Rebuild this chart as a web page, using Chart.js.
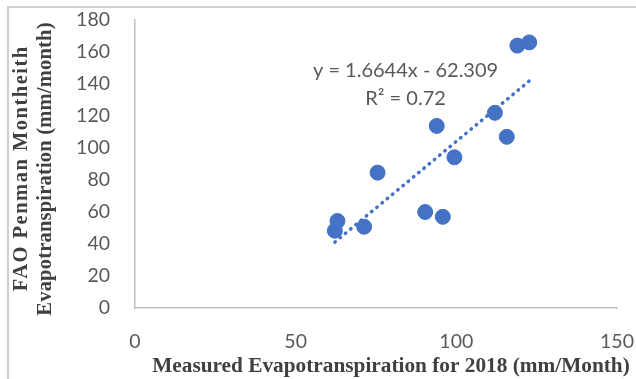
<!DOCTYPE html>
<html>
<head>
<meta charset="utf-8">
<script src="https://cdn.jsdelivr.net/npm/chart.js@4/dist/chart.umd.min.js"></script>
<style>
  html, body { margin: 0; padding: 0; background: #fff; }
  #wrap { position: relative; width: 636px; height: 379px; overflow: hidden; }
  #frame { position: absolute; left: 7px; top: 6px; width: 700px; height: 400px;
           border-left: 2px solid #cfcfcf; border-top: 2px solid #cfcfcf; }
  canvas { position: absolute; left: 0; top: 0; }
</style>
</head>
<body>
<div id="wrap">
  <div id="frame"></div>
  <canvas id="chart" width="636" height="379"></canvas>
</div>
<script>
// Monthly evapotranspiration, 2018: measured vs FAO Penman-Monteith (mm/month)
const measuredET = [62.2, 63.0, 71.3, 75.5, 90.3, 95.8, 93.9, 99.4, 112.0, 115.7, 119.0, 122.7];
const faoPenmanET = [48.3, 54.4, 50.8, 84.6, 60.0, 57.0, 113.8, 94.2, 122.0, 107.0, 164.0, 166.0];

// Linear trendline as reported on the chart
const trendSlope = 1.6644;
const trendIntercept = -62.309;
const trendR2 = 0.72;

const xTicks = [0, 50, 100, 150];
const yTicks = [0, 20, 40, 60, 80, 100, 120, 140, 160, 180];

const xTitle = 'Measured Evapotranspiration for 2018 (mm/Month)';
const yTitleLines = ['FAO Penman Montheith', 'Evapotranspiration (mm/month)'];

const blue = '#4472C4';
const scatterPoints = measuredET.map((x, i) => ({ x: x, y: faoPenmanET[i] }));
const xMin = Math.min(...measuredET);
const xMax = Math.max(...measuredET);
const trendPoints = [xMin, xMax].map(x => ({ x: x, y: trendSlope * x + trendIntercept }));

const eqLabel = 'y = ' + trendSlope.toFixed(4) + 'x - ' + Math.abs(trendIntercept).toFixed(3);
const r2Label = 'R\u00B2 = ' + trendR2.toFixed(2);

// Writes the trendline equation and R² near the fitted line
const trendLabelPlugin = {
  id: 'trendLabel',
  afterDatasetsDraw(chart) {
    const { ctx, scales } = chart;
    const cx = scales.x.getPixelForValue(84.2);
    const y1 = scales.y.getPixelForValue(148.6);
    const y2 = scales.y.getPixelForValue(131.2);
    ctx.save();
    ctx.fillStyle = '#595959';
    ctx.font = '20px Lato';
    ctx.textAlign = 'center';
    ctx.textBaseline = 'middle';
    ctx.fillText(eqLabel, cx, y1);
    ctx.fillText(r2Label, cx, y2);
    ctx.restore();
  }
};

// Axis titles in bold serif, the vertical one split over two lines
const axisTitlePlugin = {
  id: 'axisTitles',
  afterDraw(chart) {
    const { ctx } = chart;
    ctx.save();
    ctx.fillStyle = '#404040';
    ctx.font = 'bold 21.3px "Liberation Serif"';
    ctx.textAlign = 'center';
    ctx.textBaseline = 'alphabetic';
    ctx.fillText(xTitle, 391, 371.5);

    ctx.translate(0, 169);
    ctx.rotate(-Math.PI / 2);
    ctx.font = 'bold 20.5px "Liberation Serif"';
    ctx.letterSpacing = '1.5px';
    ctx.fillText(yTitleLines[0], 0.7, 26.5);
    ctx.letterSpacing = '0.2px';
    ctx.fillText(yTitleLines[1], 0, 50.5);
    ctx.restore();
  }
};

new Chart(document.getElementById('chart'), {
  type: 'scatter',
  data: {
    datasets: [
      {
        label: 'Monthly ET',
        data: scatterPoints,
        backgroundColor: blue,
        borderColor: blue,
        pointRadius: 7.5,
        pointHoverRadius: 7.5,
        order: 1
      },
      {
        label: 'Linear trend',
        type: 'line',
        data: trendPoints,
        borderColor: blue,
        borderWidth: 3.5,
        borderDash: [0.5, 6.3],
        borderCapStyle: 'round',
        pointRadius: 0,
        fill: false,
        order: 0
      }
    ]
  },
  options: {
    responsive: false,
    animation: false,
    events: [],
    layout: { padding: { top: 20, right: 19, left: 0, bottom: 0 } },
    plugins: {
      legend: { display: false },
      tooltip: { enabled: false }
    },
    scales: {
      x: {
        type: 'linear',
        min: 0,
        max: 150,
        afterBuildTicks(scale) { scale.ticks = xTicks.map(v => ({ value: v })); },
        afterFit(scale) {
          scale.height = 71;
          scale.paddingLeft = 0;
          scale.paddingRight = 0;
        },
        grid: { display: false, drawTicks: false },
        border: { display: true, color: '#bfbfbf', width: 1.5 },
        ticks: { color: '#595959', font: { family: 'Lato', size: 19.5 }, padding: 22 },
        title: { display: false, text: xTitle }
      },
      y: {
        type: 'linear',
        min: 0,
        max: 180,
        afterBuildTicks(scale) { scale.ticks = yTicks.map(v => ({ value: v })); },
        afterFit(scale) {
          scale.width = 135;
          scale.paddingTop = 0;
          scale.paddingBottom = 0;
        },
        grid: { display: false, drawTicks: false },
        border: { display: true, color: '#bfbfbf', width: 1.5 },
        ticks: { color: '#595959', font: { family: 'Lato', size: 19.5 }, padding: 25 },
        title: { display: false, text: yTitleLines }
      }
    }
  },
  plugins: [trendLabelPlugin, axisTitlePlugin]
});
</script>
</body>
</html>
